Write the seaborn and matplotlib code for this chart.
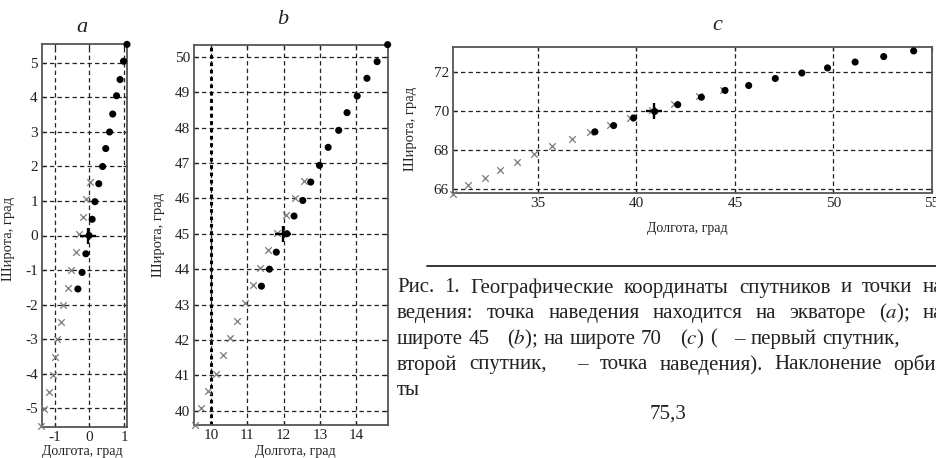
import seaborn as sns
import matplotlib.pyplot as plt
import pandas as pd
from matplotlib.lines import Line2D

# panel a - target point on the equator
a_sat1_lon = [0.03, -0.10, -0.19, -0.30, -0.38, -0.52, -0.62, -0.75, -0.82, -0.93, -1.00, -1.05, -1.17, -1.30, -1.38]
a_sat1_lat = [1.54, 1.05, 0.53, 0.04, -0.48, -1.00, -1.52, -2.00, -2.50, -3.00, -3.52, -4.03, -4.53, -5.03, -5.53]
a_sat2_lon = [-0.33, -0.21, -0.10, -0.01, 0.08, 0.16, 0.27, 0.38, 0.47, 0.58, 0.67, 0.78, 0.88, 0.98, 1.08]
a_sat2_lat = [-1.55, -1.07, -0.53, 0.00, 0.47, 0.98, 1.50, 2.00, 2.52, 3.00, 3.52, 4.05, 4.52, 5.05, 5.54]
a_target = (-0.05, 0.0)

# panel b - latitude 45
b_sat1_lon = [12.55, 12.32, 12.06, 11.81, 11.58, 11.36, 11.16, 10.94, 10.72, 10.53, 10.32, 10.15, 9.91, 9.72, 9.56]
b_sat1_lat = [46.48, 46.01, 45.52, 45.03, 44.53, 44.02, 43.55, 43.05, 42.55, 42.06, 41.57, 41.05, 40.57, 40.08, 39.60]
b_sat2_lon = [11.39, 11.61, 11.80, 12.09, 12.29, 12.53, 12.75, 12.99, 13.23, 13.52, 13.75, 14.03, 14.30, 14.58, 14.87]
b_sat2_lat = [43.52, 44.00, 44.48, 45.00, 45.50, 45.94, 46.46, 46.93, 47.44, 47.92, 48.42, 48.89, 49.39, 49.86, 50.34]
b_target = (11.98, 45.0)

# panel c - latitude 70
c_sat1_lon = [30.70, 31.47, 32.30, 33.10, 33.97, 34.83, 35.73, 36.74, 37.67, 38.65, 39.66, 40.80, 41.90, 43.20, 44.40]
c_sat1_lat = [65.76, 66.19, 66.58, 66.98, 67.37, 67.80, 68.20, 68.54, 68.93, 69.30, 69.64, 70.07, 70.37, 70.74, 71.07]
c_sat2_lon = [37.90, 38.85, 39.86, 40.93, 42.10, 43.30, 44.50, 45.70, 47.05, 48.40, 49.70, 51.10, 52.55, 54.07]
c_sat2_lat = [68.93, 69.25, 69.64, 69.97, 70.32, 70.70, 71.05, 71.30, 71.66, 71.94, 72.20, 72.50, 72.78, 73.07]
c_target = (40.9, 70.0)

# caption, "§" marks a symbol that is missing in the scan
caption = [
    "Рис. 1. Географические координаты спутников и точки на",
    "ведения: точка наведения находится на экваторе ($a$); на",
    "широте 45 § ($b$); на широте 70 § ($c$) ( § – первый спутник,",
    "второй спутник, § – точка наведения). Наклонение орби-",
    "ты",
]
caption_justify = [True, True, False, True, False]
formula = "75,3"

sns.set_theme(style="ticks")
plt.rcParams["font.family"] = ["Liberation Serif", "DejaVu Serif"]
plt.rcParams["axes.unicode_minus"] = False
plt.rcParams["mathtext.fontset"] = "stix"

W, H = 936, 458
fig = plt.figure(figsize=(W / 100, H / 100), dpi=100)
ink = "#222222"


def box(l, t, r, b):
    return [l / W, 1 - b / H, (r - l) / W, (b - t) / H]


def panel(ax, s1lon, s1lat, s2lon, s2lat, tgt, xlim, ylim, xt, yt):
    d1 = pd.DataFrame({"lon": s1lon, "lat": s1lat})
    d2 = pd.DataFrame({"lon": s2lon, "lat": s2lat})
    sns.scatterplot(data=d1, x="lon", y="lat", ax=ax, marker="x", s=22,
                    color="#7a7a7a", linewidth=0.9, clip_on=False, zorder=3)
    sns.scatterplot(data=d2, x="lon", y="lat", ax=ax, marker="o", s=26,
                    color="black", edgecolor="none", clip_on=False, zorder=4)
    ax.scatter([tgt[0]], [tgt[1]], marker="+", s=140, color="black",
               linewidth=1.7, zorder=5)
    ax.set_xlim(*xlim)
    ax.set_ylim(*ylim)
    ax.set_xticks(xt)
    ax.set_yticks(yt)
    ax.grid(True, color=ink, linestyle=(0, (3.5, 2.5)), linewidth=0.9)
    ax.set_axisbelow(True)
    for sp in ax.spines.values():
        sp.set_visible(True)
        sp.set_color("#555555")
        sp.set_linewidth(1.3)
    ax.tick_params(direction="in", length=3, width=0.9, top=True, right=True,
                   labelsize=11, colors=ink, pad=3)
    ax.set_xlabel("Долгота, град", fontsize=10, color=ink)
    ax.set_ylabel("Широта, град", fontsize=10.5, color=ink)


ax_a = fig.add_axes(box(42, 44, 127, 427))
panel(ax_a, a_sat1_lon, a_sat1_lat, a_sat2_lon, a_sat2_lat, a_target,
      (-1.36, 1.08), (-5.55, 5.55), [-1, 0, 1], list(range(-5, 6)))
ax_a.xaxis.set_label_coords(0.48, -0.046)
ax_a.yaxis.set_label_coords(-0.32, 0.49)

ax_b = fig.add_axes(box(194, 45, 388, 425))
panel(ax_b, b_sat1_lon, b_sat1_lat, b_sat2_lon, b_sat2_lat, b_target,
      (9.53, 14.88), (39.6, 50.33), [10, 11, 12, 13, 14], list(range(40, 51)))
ax_b.axvline(10, color="black", linestyle=(0, (1.2, 1.2)), linewidth=2.2, zorder=2)
ax_b.xaxis.set_label_coords(0.52, -0.052)
ax_b.yaxis.set_label_coords(-0.15, 0.5)

ax_c = fig.add_axes(box(453, 47, 932, 193))
panel(ax_c, c_sat1_lon, c_sat1_lat, c_sat2_lon, c_sat2_lat, c_target,
      (30.7, 55.0), (65.8, 73.27), [35, 40, 45, 50, 55], [66, 68, 70, 72])
ax_c.xaxis.set_label_coords(0.49, -0.2)
ax_c.yaxis.set_label_coords(-0.075, 0.44)

# panel letters
for x, y, t in [(82, 27, "a"), (283, 20, "b"), (717, 25, "c")]:
    fig.text(x / W, 1 - y / H, t, fontsize=16, style="italic",
             ha="center", va="center", color=ink)

# separator rule above the caption
fig.add_artist(Line2D([427 / W, 1.0], [1 - 266 / H, 1 - 266 / H],
                      color="#333333", linewidth=1.4))

# justified caption, right margin lies just beyond the cropped scan
renderer = fig.canvas.get_renderer()
x0, x1, fs = 397, 943, 15
for i, line in enumerate(caption):
    y = 1 - (288 + 25.6 * i) / H
    items = []
    for word in line.split(" "):
        if word == "§":
            items.append((None, 7.0))
            continue
        t = fig.text(0, y, word, fontsize=fs, ha="left", va="center", color=ink)
        items.append((t, t.get_window_extent(renderer).width))
    total = sum(w for _, w in items)
    gap = (x1 - x0 - total) / (len(items) - 1) if caption_justify[i] else 5.5
    x = x0
    for t, w in items:
        if t is not None:
            t.set_x(x / W)
        x += w + gap
fig.text(668 / W, 1 - 414 / H, formula, fontsize=fs, ha="center",
         va="center", color=ink)

fig.savefig("out.png", dpi=100)
